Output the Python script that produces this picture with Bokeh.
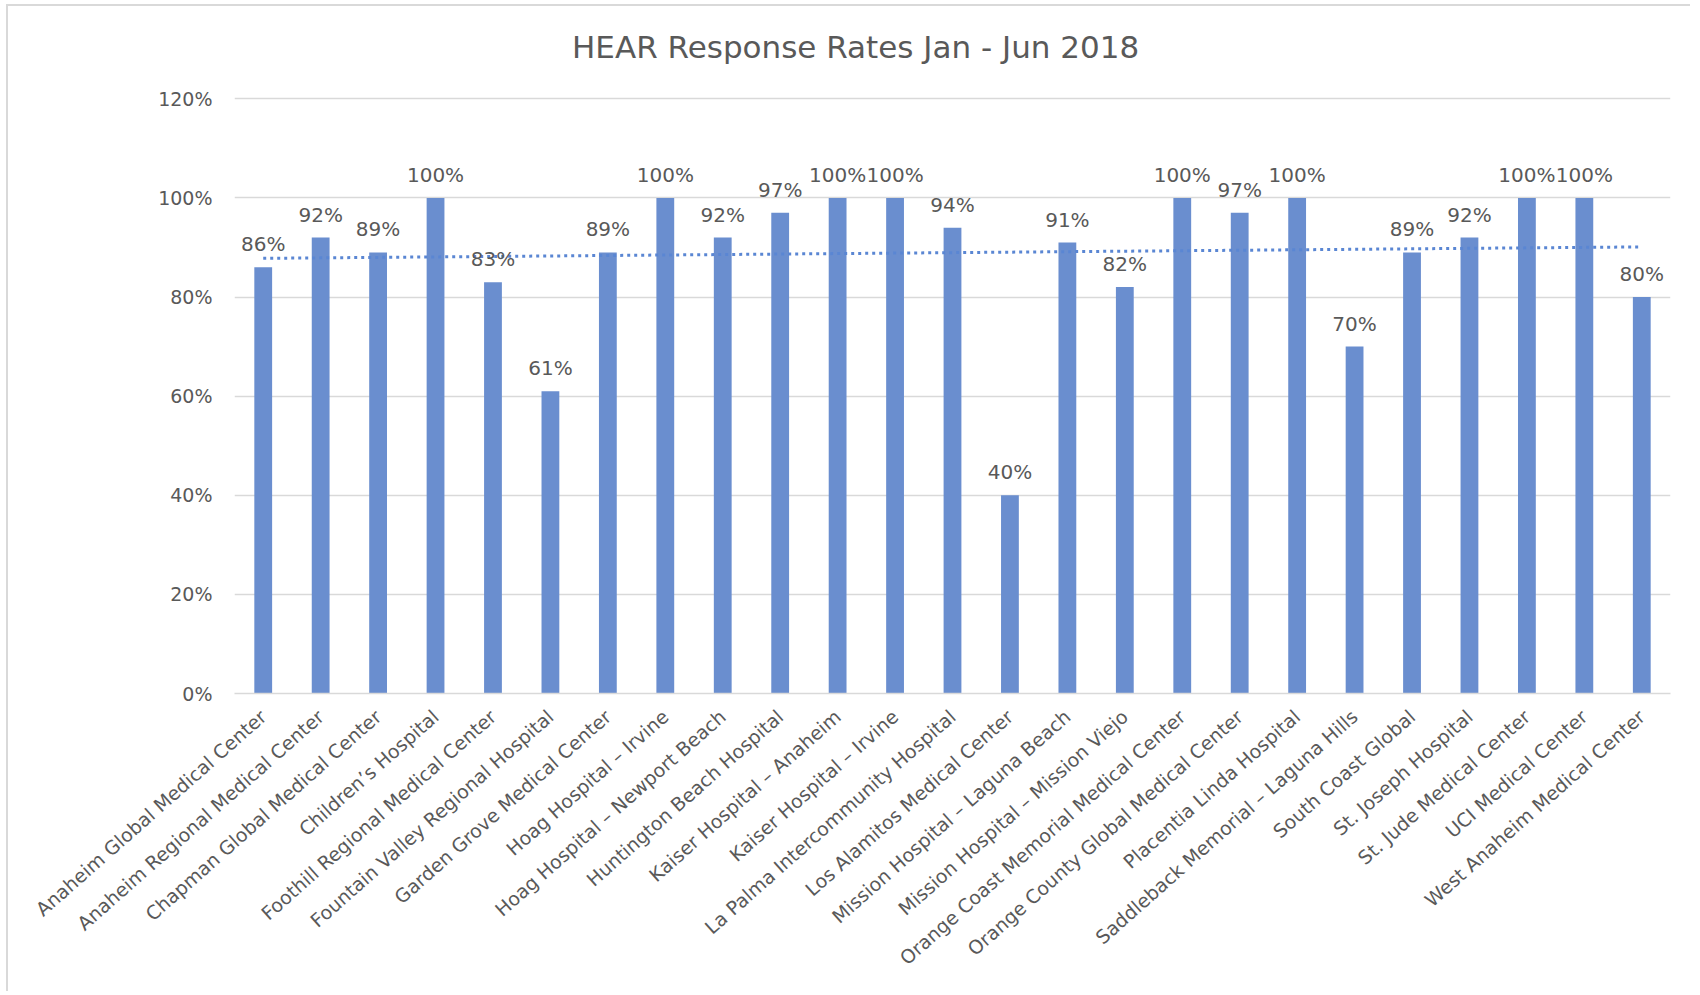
import numpy as np
from bokeh.plotting import figure
from bokeh.models import Range1d, FactorRange, NumeralTickFormatter, ColumnDataSource
from bokeh.core.properties import value
from bokeh.embed import file_html
from bokeh.resources import INLINE

# ---- data ----
hospitals = [
    "Anaheim Global Medical Center",
    "Anaheim Regional Medical Center",
    "Chapman Global Medical Center",
    "Children\u2019s Hospital",
    "Foothill Regional Medical Center",
    "Fountain Valley Regional Hospital",
    "Garden Grove Medical Center",
    "Hoag Hospital \u2013 Irvine",
    "Hoag Hospital \u2013 Newport Beach",
    "Huntington Beach Hospital",
    "Kaiser Hospital \u2013 Anaheim",
    "Kaiser Hospital \u2013 Irvine",
    "La Palma Intercommunity Hospital",
    "Los Alamitos Medical Center",
    "Mission Hospital \u2013 Laguna Beach",
    "Mission Hospital \u2013 Mission Viejo",
    "Orange Coast Memorial Medical Center",
    "Orange County Global Medical Center",
    "Placentia Linda Hospital",
    "Saddleback Memorial \u2013 Laguna Hills",
    "South Coast Global",
    "St. Joseph Hospital",
    "St. Jude Medical Center",
    "UCI Medical Center",
    "West Anaheim Medical Center",
]
rates_pct = [86, 92, 89, 100, 83, 61, 89, 100, 92, 97, 100, 100, 94, 40,
             91, 82, 100, 97, 100, 70, 89, 92, 100, 100, 80]
y_ticks = [0, 0.2, 0.4, 0.6, 0.8, 1.0, 1.2]
title_text = "HEAR Response Rates Jan - Jun 2018"

# ---- derived ----
rates = [r / 100 for r in rates_pct]
labels = [f"{r}%" for r in rates_pct]
idx = np.arange(len(rates))
slope, intercept = np.polyfit(idx, rates, 1)
trend = list(slope * idx + intercept)

FONT = "DejaVu Sans"
TEXT = "#595959"
GRID = "#D9D9D9"
BAR = "#6A8ECF"
TREND = "#5A86D3"

src = ColumnDataSource(dict(x=hospitals, top=rates, label=labels, trend=trend))

# y range extends a little above the 120% gridline so the title sits inside the frame
p = figure(
    x_range=FactorRange(*hospitals),
    y_range=Range1d(0, 1.36),
    width=1684, height=987,
    output_backend="svg", toolbar_location=None,
    min_border_left=226, min_border_right=22,
    min_border_top=13, min_border_bottom=300,
)
p.styles = {"margin-left": "6px", "margin-top": "4px",
            "border-left": "2px solid #D9D9D9", "border-top": "2px solid #D9D9D9"}
p.outline_line_color = None
p.background_fill_color = "white"
p.border_fill_color = "white"

p.xgrid.grid_line_color = None
p.ygrid.grid_line_color = GRID
p.ygrid.grid_line_width = 1.3

p.yaxis.ticker = y_ticks
p.yaxis.formatter = NumeralTickFormatter(format="0%")
p.yaxis.axis_line_color = None
p.yaxis.major_tick_line_color = None
p.yaxis.major_tick_out = 0
p.yaxis.minor_tick_line_color = None
p.yaxis.major_label_standoff = 22
p.yaxis.major_label_text_font = FONT
p.yaxis.major_label_text_font_size = "19px"
p.yaxis.major_label_text_color = TEXT

p.xaxis.axis_line_color = GRID
p.xaxis.axis_line_width = 1.5
p.xaxis.major_tick_line_color = None
p.xaxis.major_tick_out = 0
p.xaxis.major_label_orientation = 0.724
p.xaxis.major_label_standoff = 20
p.xaxis.major_label_text_font = FONT
p.xaxis.major_label_text_font_size = "19px"
p.xaxis.major_label_text_color = TEXT

p.vbar(x="x", top="top", width=0.31, source=src, fill_color=BAR, line_color=None)
p.line(x="x", y="trend", source=src, line_color=TREND, line_width=3, line_dash="3 4")
p.text(x="x", y="top", text="label", source=src, text_align="center",
       text_baseline="bottom", y_offset=-11, text_font=value(FONT),
       text_font_size="20px", text_color=TEXT)

# chart title, placed above the plot near the middle
p.text(x=[hospitals[10]], y=[1.305], text=[title_text], x_offset=18,
       text_align="center", text_baseline="alphabetic", text_font=value(FONT),
       text_font_size="31px", text_color=TEXT)

open("out.html", "w").write(file_html(p, INLINE))
